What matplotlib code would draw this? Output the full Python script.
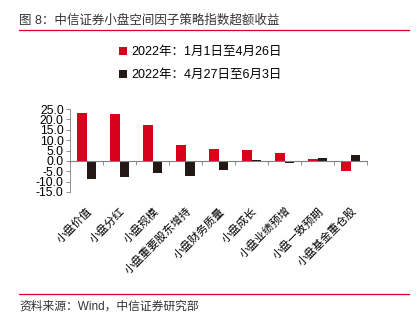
import matplotlib
matplotlib.use("Agg")
from matplotlib import pyplot as plt
from matplotlib.lines import Line2D
import numpy as np

plt.rcParams['font.family'] = ['Liberation Sans', 'Noto Sans CJK SC', 'DejaVu Sans']

categories = ["小盘价值", "小盘分红", "小盘规模", "小盘重要股东增持", "小盘财务质量",
              "小盘成长", "小盘业绩预增", "小盘一致预期", "小盘基金重仓股"]
period1 = [22.9, 22.4, 17.1, 7.7, 5.9, 5.4, 3.7, 1.0, -5.1]
period2 = [-8.8, -7.9, -5.9, -7.4, -4.2, 0.4, -0.8, 1.6, 3.0]
labels = ["2022年：1月1日至4月26日", "2022年：4月27日至6月3日"]
yticks = [25, 20, 15, 10, 5, 0, -5, -10, -15]

red = '#d9001b'
dark = '#231815'
gray = '#808080'

fig = plt.figure(figsize=(4.18, 3.22), dpi=100)

# title + rules
fig.text(19/418, 1-20/322, "图 8：中信证券小盘空间因子策略指数超额收益",
         fontsize=9, color='#333333', va='center', ha='left')
fig.add_artist(Line2D([19/418, 409/418], [1-29.5/322, 1-29.5/322], color=red, lw=0.9))
fig.add_artist(Line2D([19/418, 409/418], [1-294/322, 1-294/322], color=red, lw=0.9))
fig.text(19/418, 1-307/322, "资料来源：Wind，中信证券研究部",
         fontsize=8.5, color='#333333', va='center', ha='left')

ax = fig.add_axes([70/418, 1-192/322, 297/418, 83/322])
x = np.arange(1, len(categories) + 1)
w = 0.29
ax.bar(x - w/2, period1, width=w, color=red, label=labels[0], zorder=2)
ax.bar(x + w/2, period2, width=w, color=dark, label=labels[1], zorder=2)

ax.set_xlim(0.5, len(categories) + 0.5)
ax.set_ylim(-15, 25)
ax.set_yticks(yticks)
ax.set_yticklabels([f"{v:.1f}" for v in yticks], fontsize=8.7)
ax.tick_params(axis='y', length=3, width=0.6, color=gray, pad=1.5)

for s in ['top', 'right']:
    ax.spines[s].set_visible(False)
ax.spines['left'].set_color(gray)
ax.spines['left'].set_linewidth(0.6)
ax.spines['bottom'].set_position(('data', 0))
ax.spines['bottom'].set_color(gray)
ax.spines['bottom'].set_linewidth(0.8)

ax.set_xticks(np.arange(0.5, len(categories) + 1, 1), minor=True)
ax.tick_params(axis='x', which='minor', length=3, width=0.6, color=gray)
ax.set_xticks(x)
ax.set_xticklabels(categories, rotation=45, ha='right', rotation_mode='anchor', fontsize=8)
ax.tick_params(axis='x', which='major', length=0, pad=32)

leg = fig.legend(loc='upper left', bbox_to_anchor=(119/418, 1-46/322), frameon=False,
                 fontsize=9, handlelength=0.6, handleheight=0.6, handletextpad=0.4,
                 labelspacing=0.9, borderpad=0, borderaxespad=0)

fig.savefig("out.png", dpi=100)
